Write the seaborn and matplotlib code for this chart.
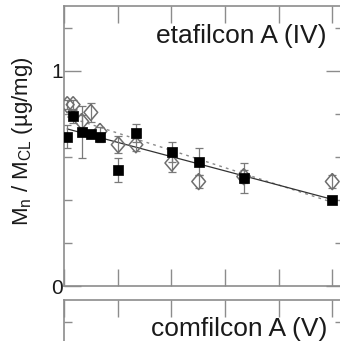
import numpy as np
import matplotlib
matplotlib.use("Agg")
import matplotlib.pyplot as plt
from matplotlib.ticker import MultipleLocator, FixedLocator, NullFormatter
import seaborn as sns

# Release time (days) and normalised released mass for the two runs
time_days = [0.6, 1.7, 3.3, 5.0, 6.7, 10.1, 13.4, 20.1, 25.1, 33.5, 50.0]
ratio_filled = [0.694, 0.787, 0.715, 0.706, 0.690, 0.540, 0.710, 0.622, 0.578, 0.501, 0.400]
err_filled = [0.054, 0.03, 0.12, 0.02, 0.02, 0.055, 0.04, 0.047, 0.062, 0.068, 0.012]
ratio_open = [0.842, 0.842, 0.764, 0.806, 0.718, 0.656, 0.656, 0.571, 0.485, 0.508, 0.485]
err_open = [0.02, 0.02, 0.03, 0.045, 0.02, 0.04, 0.03, 0.04, 0.03, 0.03, 0.03]

y_ticks = [0, 1]
y_ticklabels = ["0", "1"]
panel_top = "etafilcon A (IV)"
panel_bottom = "comfilcon A (V)"
y_label = r"M$_\mathregular{n}$ / M$_\mathregular{CL}$ (µg/mg)"

sns.set_theme(style="ticks")
plt.rcParams["font.family"] = ["Liberation Sans", "DejaVu Sans"]

W, H = 340, 341
fig = plt.figure(figsize=(W / 100, H / 100), dpi=100)
ax = fig.add_axes([64 / W, 1 - 286 / H, 279 / W, 280 / H])
ax2 = fig.add_axes([64 / W, 1 - 300 / H - 280 / H, 279 / W, 280 / H])

x = np.array(time_days)
spine_col = "#8c8c8c"
err_col = "#7a7a7a"

# fitted trend lines
sns.regplot(x=x, y=np.array(ratio_open), ax=ax, scatter=False, ci=None,
            line_kws=dict(color="#8a8a8a", lw=1.0, ls=(0, (2, 3)), zorder=1))
sns.regplot(x=x, y=np.array(ratio_filled), ax=ax, scatter=False, ci=None,
            line_kws=dict(color="#333333", lw=0.9, zorder=1))

# error bars
ax.errorbar(x, ratio_open, yerr=err_open, fmt="none", ecolor=err_col,
            elinewidth=0.9, capsize=3, capthick=0.9, zorder=2)
ax.errorbar(x, ratio_filled, yerr=err_filled, fmt="none", ecolor=err_col,
            elinewidth=0.9, capsize=3, capthick=0.9, zorder=2)

# markers
diamond = [(0, 1), (0.85, 0), (0, -1), (-0.85, 0), (0, 1)]
sns.scatterplot(x=x, y=ratio_open, ax=ax, marker=diamond, s=135,
                fc="none", ec="#6e6e6e", linewidth=1.1, zorder=3)
sns.scatterplot(x=x, y=ratio_filled, ax=ax, marker="s", s=42,
                color="black", ec="black", linewidth=0.5, zorder=4)

for a in (ax, ax2):
    a.set_xlim(0, 52)
    a.set_ylim(0, 1.3)
    a.xaxis.set_major_locator(MultipleLocator(10))
    a.yaxis.set_major_locator(FixedLocator(y_ticks))
    a.yaxis.set_minor_locator(MultipleLocator(0.2))
    a.tick_params(which="both", direction="in", color=spine_col, width=1,
                  top=True, right=True, labelbottom=False)
    a.tick_params(which="major", length=12)
    a.tick_params(which="minor", length=6)
    a.set_xlabel("")
    a.set_ylabel("")
    for s in a.spines.values():
        s.set_color(spine_col)
        s.set_linewidth(1.2)

ax.set_yticklabels(y_ticklabels)
ax.tick_params(axis="y", labelsize=15, pad=1, labelcolor="#1a1a1a")
ax2.yaxis.set_major_formatter(NullFormatter())

ax.text((326 - 64) / 279, (286 - 43) / 280, panel_top, transform=ax.transAxes,
        ha="right", va="baseline", fontsize=19, color="#1a1a1a")
fig.text(327 / W, 1 - 336 / H, panel_bottom, ha="right", va="baseline",
         fontsize=19, color="#1a1a1a")
fig.text(23 / W, 1 - 141 / H, y_label, rotation=90, ha="center", va="center",
         fontsize=16, color="#1a1a1a")

fig.savefig("out.png", dpi=100)
